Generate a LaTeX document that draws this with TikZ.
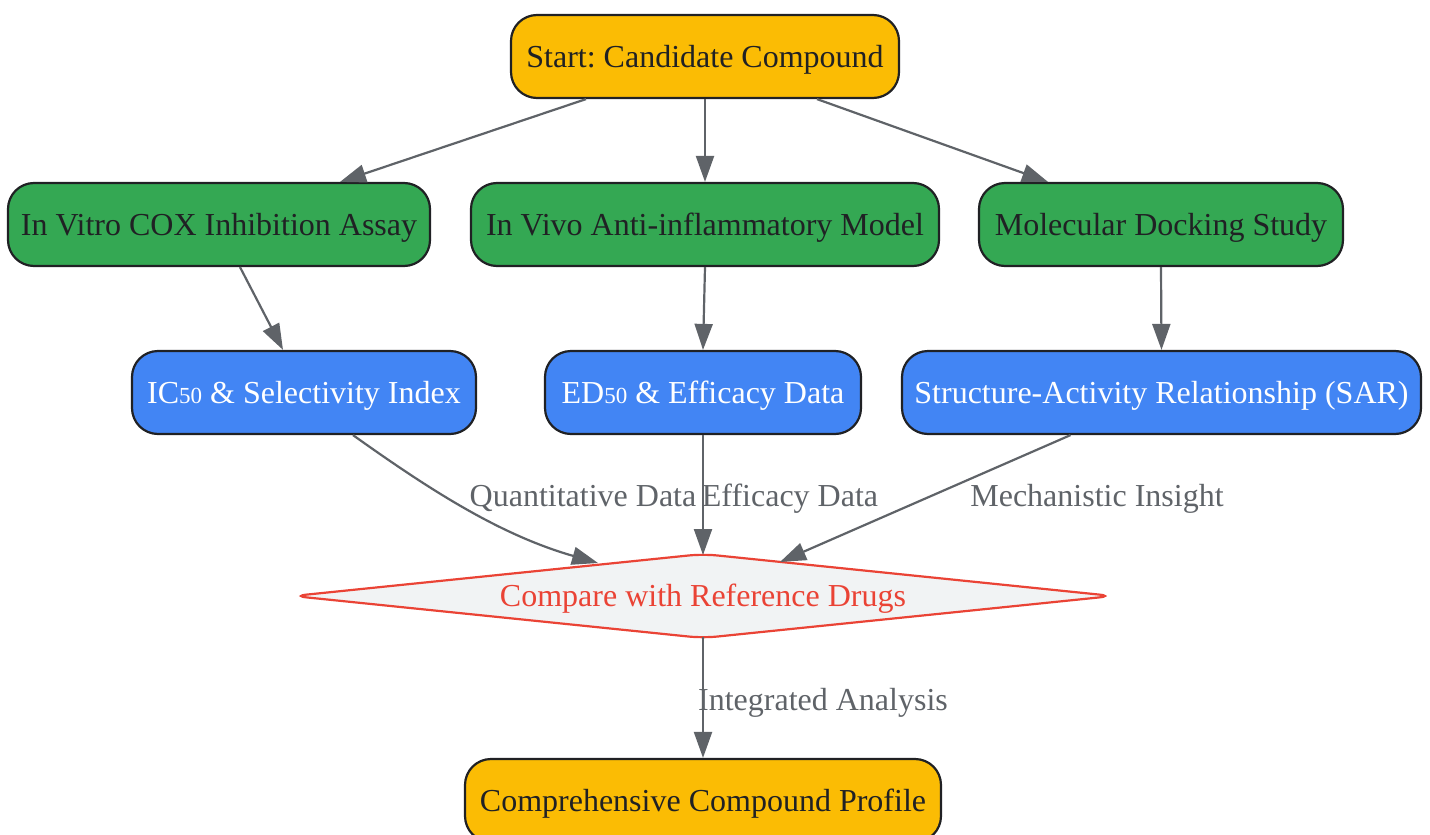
\documentclass[tikz,border=0pt]{standalone}
\usepackage{fontspec}
\setmainfont{Liberation Serif}
\usetikzlibrary{arrows.meta,calc}
\frenchspacing
\newcommand{\smalldig}[1]{{\fontsize{23}{23}\selectfont #1}}
\definecolor{cyellow}{HTML}{FBBC04}
\definecolor{cgreen}{HTML}{34A853}
\definecolor{cblue}{HTML}{4285F4}
\definecolor{cred}{HTML}{EA4335}
\definecolor{cgrayfill}{HTML}{F1F3F4}
\definecolor{cdark}{HTML}{202124}
\definecolor{cedge}{HTML}{5F6368}
\tikzset{
  box/.style={draw=cdark, line width=2.2pt, rounded corners=26pt, minimum height=83pt, inner sep=0pt, text=cdark, text height=23pt, text depth=2pt, font=\fontsize{32}{38}\selectfont},
  ybox/.style={box, fill=cyellow},
  gbox/.style={box, fill=cgreen},
  bbox/.style={box, fill=cblue, text=white},
  decshape/.style={draw=cred, fill=cgrayfill, line width=2.2pt, rounded corners=14pt},
  dectext/.style={inner sep=0pt, text=cred, text height=23pt, text depth=2pt, font=\fontsize{32}{38}\selectfont},
  conn/.style={draw=cedge, line width=2.2pt, -{Triangle[length=26pt,width=18pt]}},
  elabel/.style={text=cedge, font=\fontsize{32}{38}\selectfont, inner sep=0pt, text height=23pt, text depth=2pt}
}
\begin{document}
\begin{tikzpicture}[x=1pt,y=1pt]
\useasboundingbox (0,0) rectangle (1430,-835);
\node[ybox, minimum width=388pt] (start) at (705,-56.5) {Start: Candidate Compound};
\node[gbox, minimum width=422pt] (vitro) at (219,-224.5) {In Vitro COX Inhibition Assay};
\node[gbox, minimum width=468pt] (vivo) at (705,-224.5) {In Vivo Anti-inflammatory Model};
\node[gbox, minimum width=364pt] (dock) at (1161,-224.5) {Molecular Docking Study};
\node[bbox, minimum width=344pt] (ic) at (304,-392.5) {IC\smalldig{50} \& Selectivity Index};
\node[bbox, minimum width=316pt] (ed) at (703,-392.5) {ED\smalldig{50} \& Efficacy Data};
\node[bbox, minimum width=519pt] (sar) at (1161.5,-392.5) {Structure-Activity Relationship (SAR)};
\draw[decshape] (293,-596) -- (703,-554) -- (1113,-596) -- (703,-638) -- cycle;
\node[dectext] (cmp) at (703,-596) {Compare with Reference Drugs};
\node[ybox, minimum width=476pt] (prof) at (703,-800.5) {Comprehensive Compound Profile};

\draw[conn] ([xshift=-119pt]start.south) -- ([xshift=121pt]vitro.north);
\draw[conn] (start.south) -- (vivo.north);
\draw[conn] ([xshift=112pt]start.south) -- ([xshift=-113pt]dock.north);
\draw[conn] ([xshift=21pt]vitro.south) -- ([xshift=-21pt]ic.north);
\draw[conn] (vivo.south) -- (ed.north);
\draw[conn] (dock.south) -- (sar.north);
\draw[conn] ([xshift=49pt]ic.south) .. controls (430,-490) and (500,-535) .. ([xshift=-105pt,yshift=33pt]cmp.center);
\draw[conn] (ed.south) -- ([yshift=41pt]cmp.center);
\draw[conn] ([xshift=-91pt]sar.south) -- ([xshift=77pt,yshift=34pt]cmp.center);
\draw[conn] ([yshift=-41pt]cmp.center) -- (prof.north);

\node[elabel] (l1) at (583,-496) {Quantitative Data};
\node[elabel] (l2) at (790,-496) {Efficacy Data};
\node[elabel] (l3) at (1097,-496) {Mechanistic Insight};
\node[elabel] (l4) at (823,-700) {Integrated Analysis};
\end{tikzpicture}
\end{document}
